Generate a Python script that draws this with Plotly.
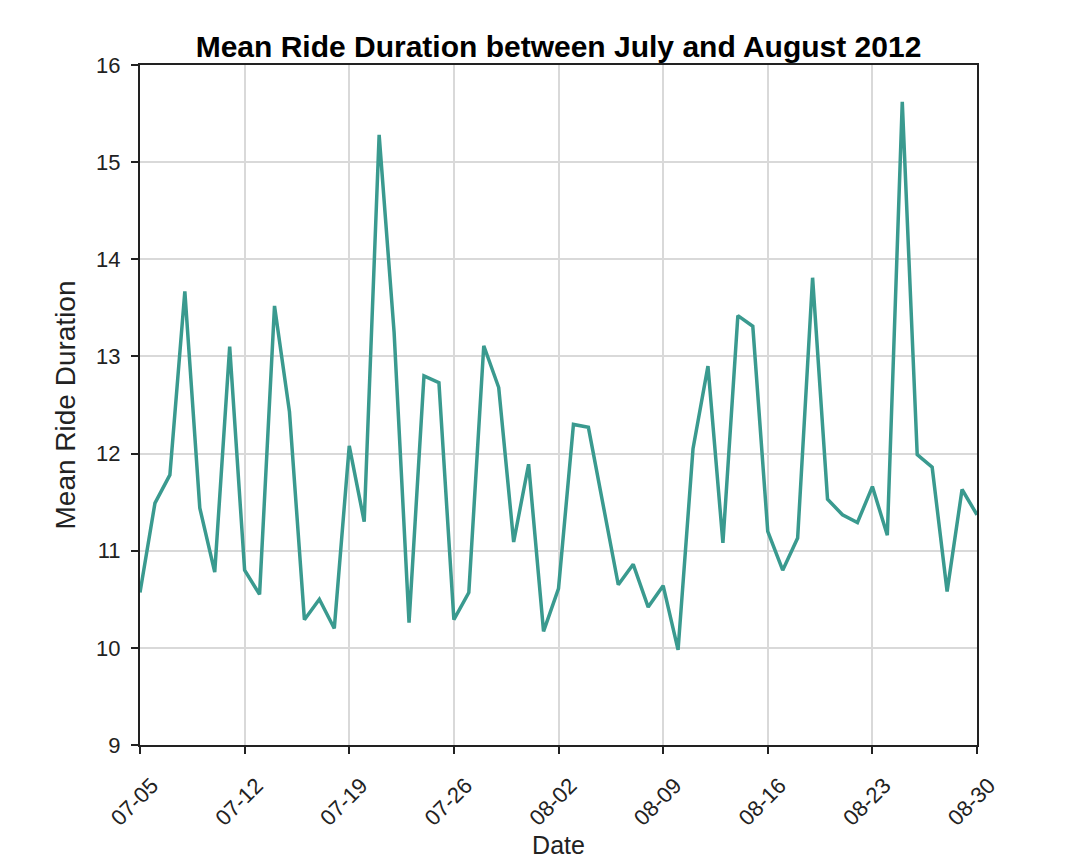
import pandas as pd
import plotly.graph_objects as go

start_date = "2012-07-05"
end_date = "2012-08-30"
mean_duration = [
    10.57, 11.49, 11.78, 13.67, 11.44, 10.78, 13.10, 10.80, 10.55, 13.52,
    12.43, 10.29, 10.50, 10.20, 12.08, 11.30, 15.28, 13.25, 10.26, 12.80,
    12.73, 10.29, 10.57, 13.11, 12.68, 11.09, 11.89, 10.17, 10.61, 12.30,
    12.27, 11.45, 10.65, 10.86, 10.42, 10.64, 9.98, 12.05, 12.90, 11.08,
    13.42, 13.31, 11.20, 10.80, 11.13, 13.81, 11.53, 11.37, 11.29, 11.66,
    11.16, 15.62, 11.99, 11.86, 10.58, 11.63, 11.37,
]
dates = pd.date_range(start_date, periods=len(mean_duration), freq="D")
y_ticks = [9, 10, 11, 12, 13, 14, 15, 16]

font_family = "Liberation Sans, Arial, Helvetica, sans-serif"

fig = go.Figure(
    go.Scatter(
        x=dates,
        y=mean_duration,
        mode="lines",
        line=dict(color="#3a9a8f", width=3.5),
    )
)

fig.update_layout(
    width=1080,
    height=863,
    paper_bgcolor="white",
    plot_bgcolor="white",
    margin=dict(l=132, r=111, t=57, b=126),
    showlegend=False,
    title=dict(
        text="<b>Mean Ride Duration between July and August 2012</b>",
        font=dict(family=font_family, size=30, color="black"),
        x=(132 + 1080 - 111) / 2 / 1080,
        xanchor="center",
        y=1 - 38 / 863,
        yanchor="middle",
        yref="container",
    ),
    font=dict(family=font_family, color="#222222"),
)

fig.update_xaxes(
    range=[start_date, end_date],
    tickformat="%m-%d",
    dtick=7 * 24 * 3600 * 1000,
    tick0=start_date,
    tickangle=-45,
    tickfont=dict(size=22, color="#222222"),
    ticklabelstandoff=10,
    ticklabelshift=12,
    automargin=False,
    showline=True,
    linecolor="#222222",
    linewidth=2,
    mirror=True,
    ticks="outside",
    ticklen=7,
    tickwidth=2,
    tickcolor="#222222",
    showgrid=True,
    gridcolor="#d9d9d9",
    gridwidth=1.5,
    zeroline=False,
    title=dict(text="Date", font=dict(size=25, color="#222222"), standoff=0),
)

fig.update_yaxes(
    range=[9, 16],
    tickvals=y_ticks,
    tickfont=dict(size=22, color="#222222"),
    ticklabelstandoff=6,
    automargin=False,
    showline=True,
    linecolor="#222222",
    linewidth=2,
    mirror=True,
    ticks="outside",
    ticklen=7,
    tickwidth=2,
    tickcolor="#222222",
    showgrid=True,
    gridcolor="#d9d9d9",
    gridwidth=1.5,
    zeroline=False,
    title=dict(text="Mean Ride Duration", font=dict(size=28, color="#222222"), standoff=12),
)

fig.write_html("out.html")
